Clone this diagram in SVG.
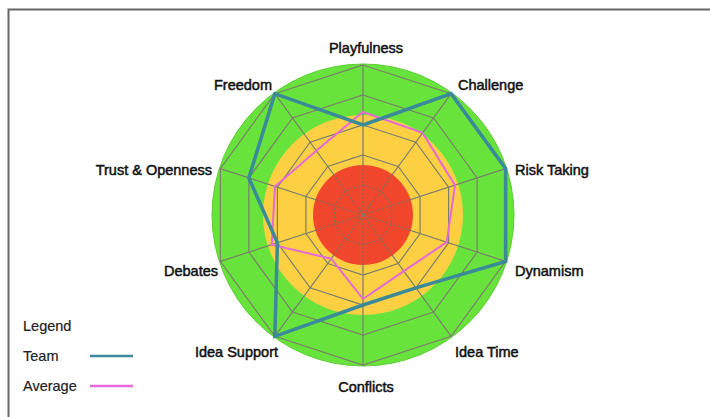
<svg xmlns="http://www.w3.org/2000/svg" width="710" height="417" viewBox="0 0 710 417">
<style>
.lbl{font-family:"Liberation Sans",Arial,sans-serif;font-size:14.5px;fill:#111;stroke:#111;stroke-width:0.5}
.leg{font-family:"Liberation Sans",Arial,sans-serif;font-size:14.5px;fill:#222;stroke:#222;stroke-width:0.2}
.grid{fill:none;stroke:#7b7e6c;stroke-width:1.2}
.dot{fill:none;stroke:#8a6a5a;stroke-width:1.4;stroke-dasharray:2 2}
.team{fill:none;stroke:#3a8a9a;stroke-width:3.5;stroke-linejoin:miter}
.avg{fill:none;stroke:#e56ad8;stroke-width:2}
</style>
<rect width="710" height="417" fill="#fff"/>
<path d="M8.5 417 V9.5 H710" fill="none" stroke="#666" stroke-width="2"/>
<g id="background">
<circle cx="363" cy="215" r="151" fill="#68e33c" stroke="#5ccc34" stroke-width="1"/>
<circle cx="363" cy="215" r="100" fill="#fdd044"/>
</g>
<g id="grid">
<polygon class="grid" points="363,65 451.17,93.65 505.66,168.65 505.66,261.35 451.17,336.35 363,365 274.83,336.35 220.34,261.35 220.34,168.65 274.83,93.65"/>
<polygon class="grid" points="363,95 433.54,117.92 477.13,177.92 477.13,252.08 433.54,312.08 363,335 292.46,312.08 248.87,252.08 248.87,177.92 292.46,117.92"/>
<polygon class="grid" points="363,125 415.9,142.19 448.6,187.19 448.6,242.81 415.9,287.81 363,305 310.1,287.81 277.4,242.81 277.4,187.19 310.1,142.19"/>
<polygon class="grid" points="363,155 398.27,166.46 420.07,196.46 420.07,233.54 398.27,263.54 363,275 327.73,263.54 305.93,233.54 305.93,196.46 327.73,166.46"/>
<path class="grid" d="M363 215 L363 65 M363 215 L451.17 93.65 M363 215 L505.66 168.65 M363 215 L505.66 261.35 M363 215 L451.17 336.35 M363 215 L363 365 M363 215 L274.83 336.35 M363 215 L220.34 261.35 M363 215 L220.34 168.65 M363 215 L274.83 93.65"/>
<circle cx="363" cy="215" r="50" fill="#f0472d"/>
<polygon class="dot" points="363,185 380.63,190.73 391.53,205.73 391.53,224.27 380.63,239.27 363,245 345.37,239.27 334.47,224.27 334.47,205.73 345.37,190.73"/>
<path class="dot" d="M363 215 L363 165 M363 215 L392.39 174.55 M363 215 L410.55 199.55 M363 215 L410.55 230.45 M363 215 L392.39 255.45 M363 215 L363 265 M363 215 L333.61 255.45 M363 215 L315.45 230.45 M363 215 L315.45 199.55 M363 215 L333.61 174.55"/>
<circle cx="363" cy="215" r="2" fill="#7b7e6c"/>
</g>
<g id="series">
<polygon id="average" class="avg" points="363,112 422.66,132.89 454.97,185.12 446.7,242.19 403.79,271.14 363,299 331.26,258.69 271.69,244.66 275.02,186.42 316.27,150.68"/>
<polygon id="team" class="team" points="363,125 451.17,93.65 505.66,168.65 505.66,261.35 415.9,287.81 363,305 274.83,336.35 277.4,242.81 248.87,177.92 274.83,93.65"/>
</g>
<g id="labels">
<text class="lbl" x="366" y="53" text-anchor="middle">Playfulness</text>
<text class="lbl" x="458" y="90">Challenge</text>
<text class="lbl" x="515" y="175">Risk Taking</text>
<text class="lbl" x="515" y="276">Dynamism</text>
<text class="lbl" x="455" y="357">Idea Time</text>
<text class="lbl" x="366" y="392" text-anchor="middle">Conflicts</text>
<text class="lbl" x="278" y="357" text-anchor="end">Idea Support</text>
<text class="lbl" x="218" y="276" text-anchor="end">Debates</text>
<text class="lbl" x="212" y="175" text-anchor="end">Trust &amp; Openness</text>
<text class="lbl" x="272" y="90" text-anchor="end">Freedom</text>
</g>
<g id="legend">
<text class="leg" x="23" y="331">Legend</text>
<text class="leg" x="23" y="361">Team</text>
<text class="leg" x="23" y="391">Average</text>
<line x1="90" y1="356" x2="133" y2="356" stroke="#3a8a9a" stroke-width="2.5"/>
<line x1="90" y1="386" x2="133" y2="386" stroke="#e56ad8" stroke-width="2.5"/>
</g>
</svg>
